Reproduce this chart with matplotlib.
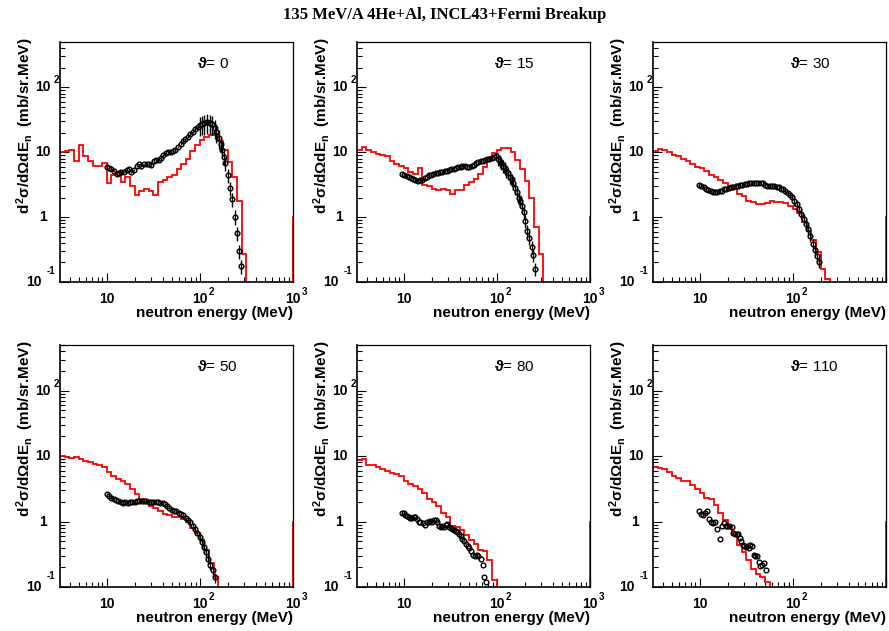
import numpy as np
import matplotlib
matplotlib.use("Agg")
import matplotlib.pyplot as plt
from matplotlib.ticker import LogLocator, NullFormatter

plt.rcParams.update({
    'font.family': ['Liberation Sans', 'DejaVu Sans'],
    'mathtext.fontset': 'custom',
    'mathtext.rm': 'Liberation Sans:bold',
    'mathtext.it': 'Liberation Sans:bold',
    'mathtext.bf': 'Liberation Sans:bold',
})

# ---------------- data ----------------
title = "135 MeV/A 4He+Al, INCL43+Fermi Breakup"
angles = [0, 15, 30, 50, 80, 110]
x_label = "neutron energy (MeV)"
y_label_math = r"$d^{2}\sigma/d\Omega dE_{n}$"
y_label_unit = "  (mb/sr.MeV)"
x_range = (10 ** 0.5, 1000.0)
y_range = (0.1, 500.0)
xtick_vals = [10, 100, 1000]
xtick_base = ["10", "10", "10"]
xtick_sup = ["", "2", "3"]
ytick_vals = [0.1, 1, 10, 100]
ytick_base = ["10", "1", "10", "10"]
ytick_sup = ["-1", "", "", "2"]

# model histogram: 20 log bins per decade from 10^0.5 to 10^3, plus one bin beyond 1000
model_edges = np.logspace(0.5, 3.05, 52)
model_overflow = 1.0

model_0 = [10.0, 10.6, 10.9, 7.3, 12.7, 8.9, 7.4, 6.1, 6.1, 6.9,
           3.3, 4.4, 4.9, 3.5, 4.2, 3.0, 2.2, 2.5, 2.7, 2.5,
           2.2, 3.5, 3.7, 4.2, 4.5, 5.5, 6.6, 7.9, 10.6, 12.7,
           15.5, 17.4, 18.5, 19.1, 15.1, 10.9, 7.0, 4.1, 1.8, 0.27,
           0, 0, 0, 0, 0, 0, 0, 0, 0, 0]
model_15 = [11.0, 11.9, 10.9, 10.0, 9.4, 9.2, 8.9, 7.4, 6.6, 6.2,
            5.7, 4.9, 4.6, 5.7, 3.1, 3.0, 2.7, 2.6, 2.7, 2.6,
            2.3, 2.6, 2.6, 3.1, 3.5, 3.9, 4.6, 5.9, 7.9, 9.7,
            11.0, 11.7, 11.6, 10.0, 7.6, 5.5, 3.6, 2.0, 0.7, 0.27,
            0, 0, 0, 0, 0, 0, 0, 0, 0, 0]
model_30 = [10.4, 11.3, 11.0, 10.0, 9.2, 8.6, 7.9, 7.4, 6.6, 6.0,
            5.7, 5.2, 4.5, 4.1, 3.7, 3.3, 3.0, 2.7, 2.3, 2.1,
            1.8, 1.7, 1.6, 1.57, 1.64, 1.76, 1.7, 1.7, 1.64, 1.5,
            1.34, 1.15, 0.84, 0.62, 0.44, 0.29, 0.16, 0.11, 0, 0,
            0, 0, 0, 0, 0, 0, 0, 0, 0, 0]
model_50 = [10.2, 9.8, 9.4, 9.7, 8.9, 8.4, 8.1, 7.7, 7.4, 6.9,
            5.7, 4.9, 4.5, 4.1, 3.7, 3.1, 2.6, 2.2, 1.9, 1.74,
            1.6, 1.43, 1.31, 1.27, 1.19, 1.17, 1.09, 0.97, 0.79, 0.66,
            0.52, 0.37, 0.23, 0.14, 0, 0, 0, 0, 0, 0,
            0, 0, 0, 0, 0, 0, 0, 0, 0, 0]
model_80 = [8.6, 8.9, 7.4, 7.2, 6.9, 6.4, 5.9, 5.5, 5.35, 4.9,
            4.1, 3.8, 3.5, 3.1, 2.7, 2.2, 2.0, 1.7, 1.37, 1.19,
            0.86, 0.84, 0.74, 0.62, 0.52, 0.46, 0.37, 0.35, 0.26, 0.13,
            0, 0, 0, 0, 0, 0, 0, 0, 0, 0,
            0, 0, 0, 0, 0, 0, 0, 0, 0, 0]
model_110 = [6.8, 6.5, 6.4, 5.8, 5.0, 4.7, 4.2, 4.1, 3.6, 3.1,
             2.7, 2.3, 2.2, 1.77, 1.33, 1.05, 0.83, 0.63, 0.44, 0.34,
             0.26, 0.19, 0.16, 0.14, 0.12, 0, 0, 0, 0, 0,
             0, 0, 0, 0, 0, 0, 0, 0, 0, 0,
             0, 0, 0, 0, 0, 0, 0, 0, 0, 0]

# experimental points (energy MeV, cross section, relative error)
E_0 = [10.0, 10.6, 11.2, 12.0, 12.8, 13.6, 14.4, 15.3, 16.4, 17.3, 18.4, 19.6, 21.0, 22.2, 23.5,
       25.1, 26.8, 28.4, 30.1, 32.2, 34.3, 36.4, 38.5, 40.5, 42.9, 45.8, 48.5, 51.8, 54.8, 58.1,
       62.1, 66.3, 70.2, 74.3, 79.4, 84.8, 89.9, 95.2, 100, 106, 112, 120, 128, 136, 144,
       151, 160, 167, 173, 181, 188, 200, 210, 222, 237, 251, 266, 279]
y_0 = [5.9, 5.7, 5.5, 5.1, 4.6, 4.75, 4.9, 4.9, 5.35, 5.5, 5.0, 5.35, 6.1, 6.5, 6.1,
       6.5, 6.6, 6.6, 6.4, 7.2, 7.6, 7.6, 8.2, 9.1, 9.7, 10.0, 10.0, 10.4, 10.9, 11.9,
       13.4, 14.8, 16.0, 17.4, 19.1, 20.8, 22.9, 24.8, 26.4, 27.3, 27.9, 29.0, 28.4, 27.3, 24.0,
       20.5, 16.5, 13.5, 11.0, 8.4, 6.8, 4.4, 2.8, 1.9, 1.02, 0.57, 0.30, 0.176]
err_0 = [0.03, 0.03, 0.03, 0.03, 0.03, 0.03, 0.03, 0.03, 0.03, 0.03, 0.03, 0.03, 0.03, 0.03, 0.03,
         0.03, 0.03, 0.03, 0.03, 0.03, 0.03, 0.03, 0.03, 0.03, 0.03, 0.03, 0.03, 0.03, 0.03, 0.03,
         0.03, 0.03, 0.03, 0.06, 0.06, 0.06, 0.12, 0.12, 0.33, 0.33, 0.33, 0.33, 0.33, 0.33, 0.33,
         0.33, 0.33, 0.25, 0.25, 0.25, 0.25, 0.25, 0.25, 0.25, 0.25, 0.25, 0.25, 0.25]

E_15 = [9.5, 10.2, 10.8, 11.3, 12.0, 12.7, 13.4, 14.2, 15.0, 15.8, 16.8, 17.7, 18.7, 19.8, 20.9,
        22.2, 23.4, 24.8, 26.0, 27.6, 29.2, 30.7, 32.6, 34.5, 36.3, 38.5, 40.8, 42.8, 45.4, 48.1,
        50.6, 53.6, 56.9, 59.7, 63.3, 67.1, 70.5, 74.8, 79.3, 83.3, 88.3, 93.6, 98.4, 103, 107,
        111, 117, 122, 127, 133, 138, 144, 150, 158, 165, 172, 179, 187, 195, 203, 213, 224, 236,
        245, 260]
y_15 = [4.6, 4.5, 4.3, 4.1, 4.0, 3.8, 3.7, 3.6, 3.7, 3.75, 4.0, 4.2, 4.4, 4.5, 4.6,
        4.75, 4.8, 4.9, 5.0, 5.1, 5.2, 5.35, 5.5, 5.6, 5.7, 5.9, 6.0, 6.2, 6.1, 6.0,
        5.9, 6.2, 6.45, 6.8, 7.0, 7.2, 7.4, 7.6, 7.8, 8.0, 8.2, 8.4, 8.6, 7.9, 7.4,
        6.9, 6.2, 5.7, 5.2, 4.75, 4.2, 3.8, 3.3, 2.8, 2.4, 2.0, 1.76, 1.5, 1.19, 0.87, 0.62, 0.48,
        0.35, 0.26, 0.16]
err_15 = [0.03, 0.03, 0.03, 0.03, 0.03, 0.03, 0.03, 0.03, 0.03, 0.03, 0.03, 0.03, 0.03, 0.03, 0.03,
          0.03, 0.03, 0.03, 0.03, 0.03, 0.03, 0.03, 0.03, 0.03, 0.03, 0.03, 0.03, 0.03, 0.03, 0.03,
          0.03, 0.03, 0.03, 0.03, 0.03, 0.03, 0.03, 0.03, 0.08, 0.08, 0.08, 0.08, 0.08, 0.22, 0.22,
          0.22, 0.22, 0.22, 0.22, 0.22, 0.22, 0.22, 0.22, 0.22, 0.22, 0.22, 0.22, 0.22, 0.22, 0.22,
          0.22, 0.22, 0.22, 0.22, 0.22]

E_30 = [9.8, 10.4, 11.1, 11.6, 12.3, 13.1, 13.9, 14.6, 15.5, 16.4, 17.4, 18.3, 19.4, 20.5, 21.6,
        22.9, 24.3, 25.7, 27.1, 28.7, 30.5, 32.0, 34.0, 36.0, 38.2, 40.2, 42.6, 45.2, 47.5, 49.9,
        53.4, 56.6, 59.5, 63.1, 66.9, 70.3, 74.6, 79.1, 83.2, 88.1, 93.5, 98.4, 104, 111, 116,
        123, 131, 137, 146, 153, 163, 172, 181, 192]
y_30 = [3.15, 3.0, 2.9, 2.73, 2.64, 2.54, 2.45, 2.42, 2.45, 2.51, 2.57, 2.67, 2.76, 2.83, 2.9,
        2.96, 3.03, 3.07, 3.1, 3.18, 3.22, 3.26, 3.3, 3.33, 3.37, 3.41, 3.41, 3.37, 3.3, 3.15,
        3.07, 3.03, 3.03, 3.0, 2.96, 2.9, 2.76, 2.67, 2.51, 2.37, 2.2, 2.03, 1.8, 1.57, 1.34,
        1.13, 0.94, 0.79, 0.65, 0.51, 0.39, 0.31, 0.25, 0.2]
err_30 = [0.03, 0.03, 0.03, 0.03, 0.03, 0.03, 0.03, 0.03, 0.03, 0.03, 0.03, 0.03, 0.03, 0.03, 0.03,
          0.03, 0.03, 0.03, 0.03, 0.03, 0.03, 0.03, 0.03, 0.03, 0.03, 0.03, 0.03, 0.03, 0.03, 0.03,
          0.03, 0.03, 0.03, 0.03, 0.03, 0.03, 0.03, 0.03, 0.08, 0.08, 0.08, 0.08, 0.18, 0.18, 0.18,
          0.18, 0.18, 0.18, 0.18, 0.18, 0.18, 0.18, 0.18, 0.18]

E_50 = [10.0, 10.6, 11.2, 11.9, 12.6, 13.3, 14.1, 15.0, 15.8, 16.8, 17.8, 18.8, 20.0, 21.1, 22.4,
        23.7, 25.1, 26.6, 28.2, 29.9, 31.6, 33.5, 35.5, 37.6, 39.8, 42.2, 44.7, 47.3, 50.1, 53.1,
        56.2, 59.6, 63.1, 66.8, 70.8, 75.0, 79.4, 84.1, 89.1, 94.4, 100, 106, 111, 117, 123,
        129, 137, 145]
y_50 = [2.63, 2.42, 2.28, 2.18, 2.1, 2.03, 1.96, 1.91, 1.98, 1.91, 2.01, 1.98, 2.01, 2.03, 2.06,
        2.06, 2.03, 2.03, 2.01, 2.01, 1.98, 1.96, 1.96, 1.94, 1.89, 1.83, 1.74, 1.64, 1.51, 1.46,
        1.43, 1.37, 1.31, 1.24, 1.15, 1.06, 0.97, 0.87, 0.77, 0.68, 0.59, 0.49, 0.41, 0.34, 0.27,
        0.22, 0.18, 0.14]
err_50 = [0.03, 0.03, 0.03, 0.03, 0.03, 0.03, 0.03, 0.03, 0.03, 0.03, 0.03, 0.03, 0.03, 0.03, 0.03,
          0.03, 0.03, 0.03, 0.03, 0.03, 0.03, 0.03, 0.03, 0.03, 0.03, 0.03, 0.03, 0.03, 0.03, 0.03,
          0.03, 0.03, 0.03, 0.03, 0.03, 0.03, 0.08, 0.08, 0.08, 0.08, 0.18, 0.18, 0.18, 0.18, 0.18,
          0.18, 0.18, 0.18]

E_80 = [9.5, 10.0, 10.4, 10.9, 11.3, 11.8, 12.3, 12.8, 13.4, 13.9, 14.5, 15.1, 16.0, 16.9, 17.7,
        18.6, 19.4, 20.3, 21.1, 22.0, 23.0, 24.0, 25.0, 26.0, 27.1, 28.3, 29.5, 30.7, 32.0, 33.4,
        34.8, 36.2, 37.8, 39.4, 41.1, 42.8, 44.6, 46.5, 48.5, 50.6, 53.5, 55.8, 58.1, 60.6, 63.2,
        67.7, 70.5, 73.5, 76.6]
y_80 = [1.37, 1.34, 1.27, 1.22, 1.17, 1.13, 1.13, 1.17, 1.19, 1.09, 1.0, 0.97, 0.94, 0.89, 0.97,
        1.0, 1.02, 1.0, 1.04, 1.06, 1.0, 0.87, 0.84, 0.86, 0.84, 0.89, 0.91, 0.84, 0.79, 0.76,
        0.74, 0.71, 0.69, 0.65, 0.60, 0.55, 0.51, 0.46, 0.42, 0.39, 0.35, 0.31, 0.30, 0.31, 0.30,
        0.27, 0.22, 0.14, 0.12]
err_80 = None

E_110 = [9.8, 10.3, 10.9, 11.4, 12.0, 12.5, 13.1, 13.9, 14.5, 15.4, 16.4, 17.3, 18.2, 19.1, 19.9,
         20.9, 22.0, 22.9, 23.9, 24.9, 25.9, 26.8, 27.9, 28.9, 30.1, 31.3, 32.4, 33.8, 34.9, 36.4,
         37.9, 39.5, 41.2, 42.9, 44.8, 46.7, 48.6, 51.2]
y_110 = [1.44, 1.31, 1.28, 1.36, 1.44, 1.11, 0.99, 0.95, 0.97, 0.77, 0.54, 0.85, 0.95, 0.85, 0.87,
         0.85, 0.83, 0.67, 0.65, 0.64, 0.65, 0.56, 0.51, 0.44, 0.42, 0.41, 0.43, 0.39, 0.44, 0.43,
         0.31, 0.30, 0.30, 0.24, 0.21, 0.22, 0.23, 0.18]
err_110 = None

models = [model_0, model_15, model_30, model_50, model_80, model_110]
data_E = [E_0, E_15, E_30, E_50, E_80, E_110]
data_y = [y_0, y_15, y_30, y_50, y_80, y_110]
data_err = [err_0, err_15, err_30, err_50, err_80, err_110]

# ---------------- layout ----------------
W, H = 889, 631
fig = plt.figure(figsize=(W / 100, H / 100), dpi=100)
col_left = [60, 357, 653]
ax_w = 233
row_top = [42, 345]
row_h = [240, 242]

fig.text(0.5, 1 - 15 / H, title, ha='center', va='center',
         family='Liberation Serif', weight='bold', fontsize=12)

BOLD = dict(fontweight='bold')

for i, ang in enumerate(angles):
    r, c = divmod(i, 3)
    ax = fig.add_axes([col_left[c] / W, 1 - (row_top[r] + row_h[r]) / H,
                       ax_w / W, row_h[r] / H])
    ax.set_xscale('log')
    ax.set_yscale('log')
    ax.set_xlim(*x_range)
    ax.set_ylim(*y_range)

    vals = np.array(models[i] + [model_overflow], dtype=float)
    vals = np.where(vals > 0, vals, 1e-4)
    ax.stairs(vals, model_edges, baseline=None, color='#ff0000', lw=1.3, zorder=2)

    E = np.array(data_E[i]); y = np.array(data_y[i])
    if data_err[i] is not None:
        ax.errorbar(E, y, yerr=y * np.array(data_err[i]), fmt='none', ecolor='black',
                    elinewidth=1.0, capsize=0, zorder=3)
    ax.plot(E, y, 'o', ms=3.4, mfc='none', mec='black', mew=1.0, zorder=4)

    ax.xaxis.set_major_locator(LogLocator(base=10, numticks=10))
    ax.xaxis.set_minor_locator(LogLocator(base=10, subs=np.arange(2, 10), numticks=20))
    ax.yaxis.set_major_locator(LogLocator(base=10, numticks=10))
    ax.yaxis.set_minor_locator(LogLocator(base=10, subs=np.arange(2, 10), numticks=20))
    ax.xaxis.set_minor_formatter(NullFormatter())
    ax.yaxis.set_minor_formatter(NullFormatter())
    ax.tick_params(which='both', direction='in', top=False, right=False,
                   labelbottom=False, labelleft=False, width=0.8)
    ax.tick_params(which='major', length=6.5)
    ax.tick_params(which='minor', length=3.5)
    for s in ax.spines.values():
        s.set_linewidth(0.9)
    ax.spines['left'].set_linewidth(1.2)
    ax.spines['bottom'].set_linewidth(1.2)

    # x tick labels (ROOT style: "10" centred on the tick, exponent to the right)
    for v, b, sp in zip(xtick_vals, xtick_base, xtick_sup):
        if c == 2 and v >= 1000:
            continue
        ax.annotate(b, xy=(v, 0), xycoords=ax.get_xaxis_transform(), xytext=(0, -12.5),
                    textcoords='offset points', ha='center', va='center',
                    fontsize=10, annotation_clip=False, **BOLD)
        if sp:
            ax.annotate(sp, xy=(v, 0), xycoords=ax.get_xaxis_transform(), xytext=(6.3, -7.2),
                        textcoords='offset points', ha='left', va='center',
                        fontsize=7, annotation_clip=False, **BOLD)
    # y tick labels
    for v, b, sp in zip(ytick_vals, ytick_base, ytick_sup):
        if sp == '-1':
            bx, sx, sy = -18.7, -9.6, 7.6
        else:
            bx, sx, sy = -12.6, -4.3, 5.0
        ax.annotate(b, xy=(0, v), xycoords=ax.get_yaxis_transform(), xytext=(bx, 0),
                    textcoords='offset points', ha='center', va='center',
                    fontsize=10, annotation_clip=False, **BOLD)
        if sp:
            ax.annotate(sp, xy=(0, v), xycoords=ax.get_yaxis_transform(), xytext=(sx, sy),
                        textcoords='offset points', ha='left', va='center',
                        fontsize=7, annotation_clip=False, **BOLD)

    ax.annotate(x_label, xy=(1, 0), xycoords='axes fraction', xytext=(0, -25.5),
                textcoords='offset points', ha='right', va='baseline', fontsize=11, **BOLD)
    ax.annotate(y_label_math + y_label_unit, xy=(0, 1), xycoords='axes fraction',
                xytext=(-25, 3.5), textcoords='offset points', rotation=90,
                ha='center', va='top', fontsize=11, **BOLD)
    ax.text(0.59, 0.91, r"$\vartheta$" + f"= {ang}", transform=ax.transAxes,
            ha='left', va='center', fontsize=11)

fig.savefig('out.png', dpi=100)
